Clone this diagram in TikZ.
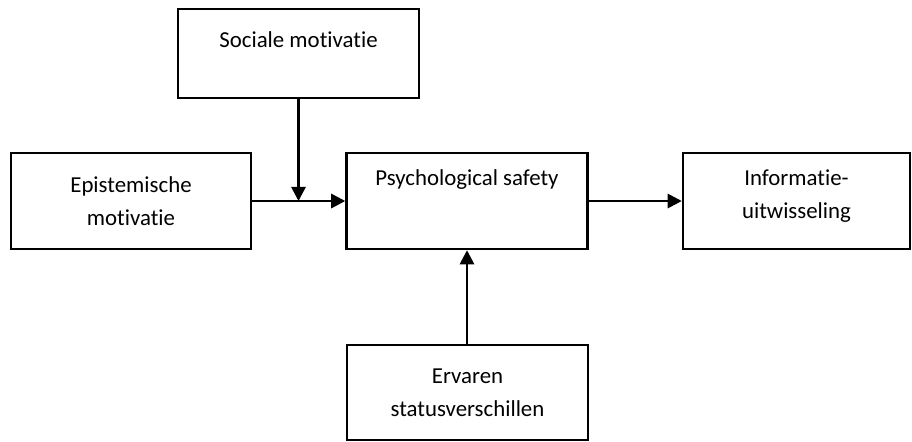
\documentclass[tikz,border=0pt]{standalone}
\usepackage{fontspec}
\setmainfont{Carlito}[Ligatures=NoCommon]
\usetikzlibrary{positioning,arrows.meta,calc}
\tikzset{%
  factor/.style={draw, line width=1.4pt, rectangle, align=center, font=\fontsize{13}{18.5}\selectfont},% model box
  caption/.style={align=center, font=\fontsize{13}{18.5}\selectfont},% text near top of box
  effect/.style={line width=1.5pt, -{Triangle[length=8pt,width=8pt]}}% path arrow
}
\begin{document}
\begin{tikzpicture}[x=0.02cm, y=-0.02cm]
\useasboundingbox (0,0) rectangle (912,441);

\node[factor, minimum width=4.82cm, minimum height=1.78cm] (soc) at (298.5, 53.5) {};
\node[caption] (soctext) at (298.5, 40) {Sociale motivatie};

\node[factor, minimum width=4.8cm, minimum height=1.92cm] (epi) at (131, 201) {Epistemische\\motivatie};

\node[factor, minimum width=4.82cm, minimum height=1.92cm] (psy) at (467, 201) {};
\node[caption] (psytext) at (467, 180) {Psychological safety};

\node[factor, minimum width=4.54cm, minimum height=1.92cm] (info) at (796.5, 201) {};
\node[caption] (infotext) at (796.5, 196) {Informatie-\\uitwisseling};

\node[factor, minimum width=4.82cm, minimum height=1.9cm] (erv) at (467.5, 392.5) {Ervaren\\statusverschillen};

\coordinate (meet) at (soc.south |- epi.east);

\draw[effect] (epi) -- (psy);
\draw[effect] (soc) -- (meet);
\draw[effect] (psy) -- (info);
\draw[effect] (erv.north -| psy.south) -- (psy.south);

\end{tikzpicture}
\end{document}
